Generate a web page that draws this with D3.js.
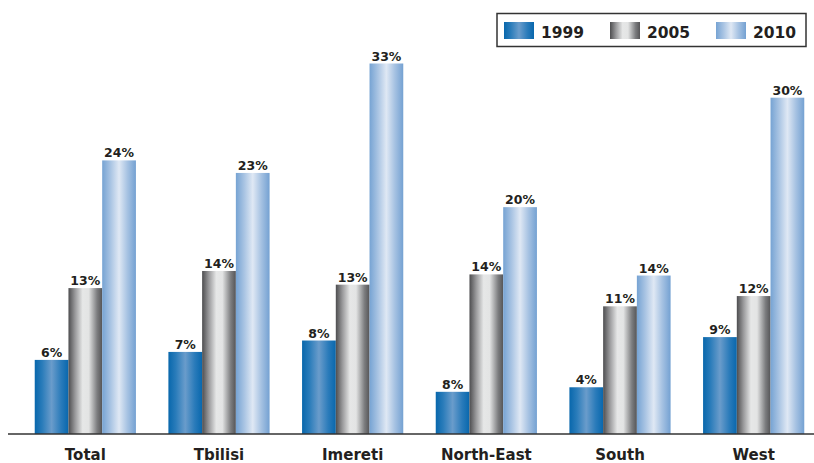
<!DOCTYPE html>
<html>
<head>
<meta charset="utf-8">
<script src="https://cdn.jsdelivr.net/npm/d3@7"></script>
<style>
  html, body { margin: 0; padding: 0; background: #fff; }
  svg { display: block; }
  text { font-family: "DejaVu Sans", Verdana, sans-serif; font-weight: bold; fill: #231f20; }
</style>
</head>
<body>
<svg id="chart" width="814" height="463"></svg>
<script>
// ---- data ----
const categories = ["Total", "Tbilisi", "Imereti", "North-East", "South", "West"];
const seriesNames = ["1999", "2005", "2010"];
const values1999 = [6.5, 7.2, 8.2, 3.7, 4.1, 8.5];
const values2005 = [12.8, 14.3, 13.1, 14.0, 11.2, 12.1];
const values2010 = [24.0, 22.9, 32.5, 19.9, 13.9, 29.5];
const labels1999 = ["6%", "7%", "8%", "8%", "4%", "9%"];
const labels2005 = ["13%", "14%", "13%", "14%", "11%", "12%"];
const labels2010 = ["24%", "23%", "33%", "20%", "14%", "30%"];

const seriesValues = [values1999, values2005, values2010];
const seriesLabels = [labels1999, labels2005, labels2010];

const svg = d3.select("#chart");
const W = 814, H = 463;
const baseY = 434;

// gradients
const defs = svg.append("defs");
const gradSpecs = {
  g1999: [[0, "#0867ac"], [0.22, "#2a7cba"], [0.5, "#6a9ccb"], [0.78, "#2a7bba"], [1, "#0867ad"]],
  g2005: [[0, "#4d4d4f"], [0.2, "#9a9a9c"], [0.42, "#e6e7e7"], [0.6, "#e3e4e4"], [0.85, "#7c7d7f"], [1, "#555557"]],
  g2010: [[0, "#76a3d3"], [0.25, "#a9c4e3"], [0.5, "#dfe8f4"], [0.75, "#a6c2e2"], [1, "#74a1d2"]]
};
Object.entries(gradSpecs).forEach(([id, stops]) => {
  const g = defs.append("linearGradient").attr("id", id)
    .attr("x1", "0").attr("x2", "1").attr("y1", "0").attr("y2", "0");
  stops.forEach(([o, c]) => g.append("stop").attr("offset", o).attr("stop-color", c));
});
const fills = ["url(#g1999)", "url(#g2005)", "url(#g2010)"];

// scales
const x0 = d3.scaleBand().domain(categories).range([8, 831]).paddingInner(0.243).paddingOuter(0.2);
const x1 = d3.scaleBand().domain(seriesNames).range([0, x0.bandwidth()]).padding(0);
const y = d3.scaleLinear().domain([0, 35]).range([baseY, 35]);

// bars
const groups = svg.append("g").selectAll("g")
  .data(categories)
  .join("g")
  .attr("transform", d => `translate(${x0(d)},0)`);

groups.each(function(cat, ci) {
  const g = d3.select(this);
  seriesNames.forEach((s, si) => {
    const v = seriesValues[si][ci];
    g.append("rect")
      .attr("x", x1(s))
      .attr("y", y(v))
      .attr("width", x1.bandwidth())
      .attr("height", baseY - y(v))
      .attr("fill", fills[si]);
    g.append("text")
      .attr("x", x1(s) + x1.bandwidth() / 2)
      .attr("y", y(v) - 3)
      .attr("text-anchor", "middle")
      .attr("font-size", 12.5)
      .text(seriesLabels[si][ci]);
  });
});

// baseline axis
const xAxis = d3.axisBottom(x0).tickSize(0).tickPadding(0);
const axisG = svg.append("g").attr("transform", `translate(0,${baseY})`).call(xAxis);
axisG.select(".domain").remove();
axisG.append("line").attr("x1", 8).attr("x2", W).attr("y1", 0).attr("y2", 0)
  .attr("stroke", "#333").attr("stroke-width", 1.6);
axisG.selectAll(".tick text")
  .attr("y", 26)
  .attr("dy", 0)
  .attr("font-size", 15)
  .attr("font-family", "DejaVu Sans, Verdana, sans-serif")
  .attr("font-weight", "bold")
  .attr("fill", "#231f20");

// legend
const legend = svg.append("g");
legend.append("rect").attr("x", 497).attr("y", 13.5).attr("width", 309).attr("height", 33)
  .attr("fill", "#fff").attr("stroke", "#333").attr("stroke-width", 1.5);
seriesNames.forEach((s, i) => {
  const lx = 504 + i * 106;
  legend.append("rect").attr("x", lx).attr("y", 22).attr("width", 30).attr("height", 17)
    .attr("fill", fills[i]);
  legend.append("text").attr("x", lx + 37).attr("y", 37.5)
    .attr("font-size", 15.5).text(s);
});
</script>
</body>
</html>
